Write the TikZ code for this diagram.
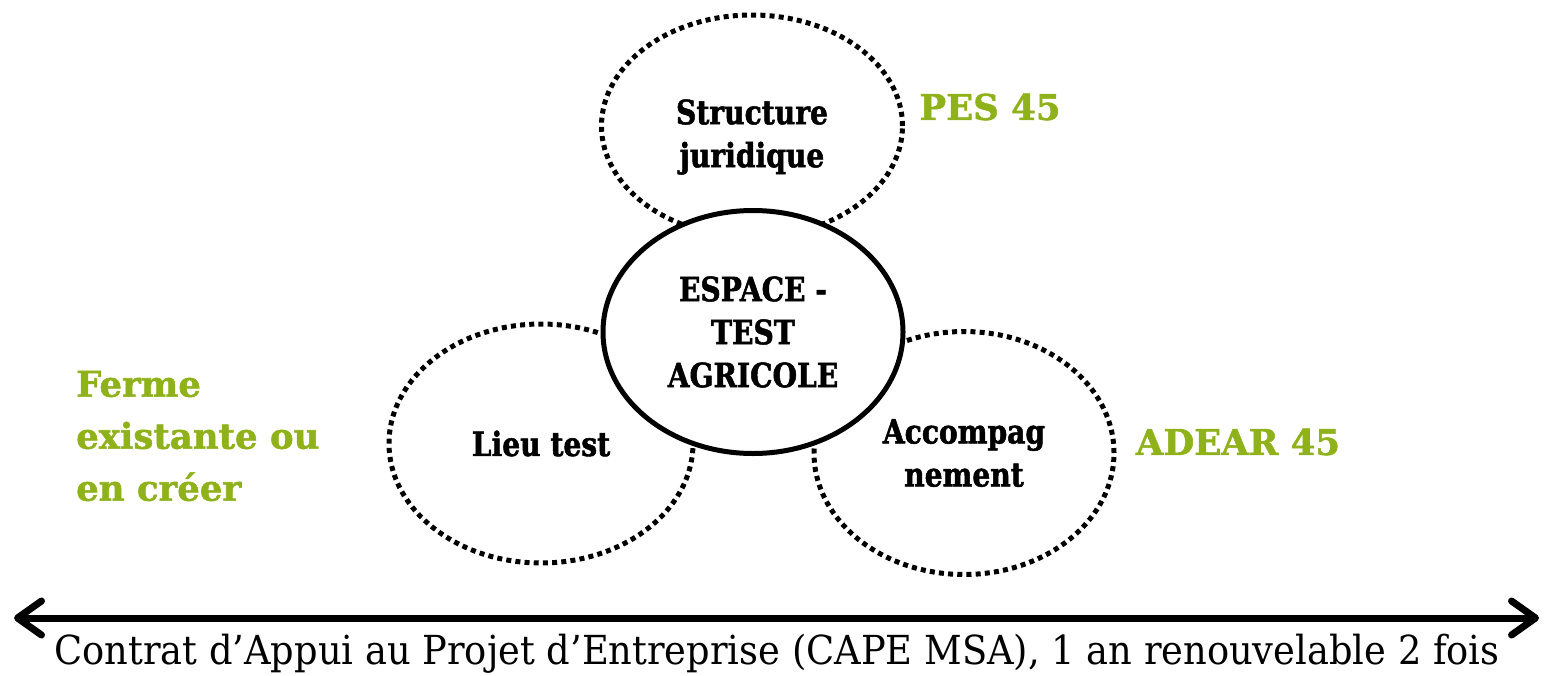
\documentclass[tikz,border=0pt]{standalone}
\usepackage{fontspec}
\usetikzlibrary{shapes.geometric,arrows.meta}
\newfontfamily\labfont[FakeStretch=0.84,FakeBold=1.5]{DejaVu Serif}
\newfontfamily\grnfont[FakeBold=1.5]{DejaVu Serif}
\newfontfamily\btmfont[FakeStretch=0.92]{DejaVu Serif}
\definecolor{leaf}{RGB}{143,178,26}
\begin{document}
\begin{tikzpicture}[x=1pt,y=-1pt,
  dotell/.style={ellipse, draw, line width=5pt, dash pattern=on 5pt off 4.2pt, inner sep=0pt},
  mainell/.style={ellipse, draw, line width=5pt, fill=white, inner sep=0pt},
  blacklbl/.style={inner sep=0pt, align=center, font=\labfont\bfseries\fontsize{33.5}{43}\selectfont},
  greenlbl/.style={text=leaf, inner sep=0pt, font=\grnfont\bfseries\fontsize{35.5}{52}\selectfont},
  barb/.tip={Straight Barb[round,length=24pt,width=34pt]}
]
\path[use as bounding box] (0,0) rectangle (1545,675);

\node[dotell, minimum width=301pt, minimum height=222pt] (struct) at (752,126) {};
\node[dotell, minimum width=304pt, minimum height=239pt] (lieu) at (541,443.5) {};
\node[dotell, minimum width=300pt, minimum height=243pt] (accomp) at (964,453) {};
\node[mainell, minimum width=300pt, minimum height=243pt] (espace) at (753,332) {};

\node[blacklbl] (structtxt) at (752,137) {Structure\\juridique};
\node[blacklbl] (lieutxt) at (541,443.5) {Lieu test};
\node[blacklbl] (accomptxt) at (964,453) {Accompag\\nement};
\node[blacklbl] (espacetxt) at (753,332) {ESPACE -\\TEST\\AGRICOLE};

\node[greenlbl] (pes) at (990,107) {PES 45};
\node[greenlbl] (adear) at (1238,442) {ADEAR 45};
\node[greenlbl, anchor=west, align=left] (ferme) at (76,436) {Ferme\\existante ou\\en créer};

\coordinate (aL) at (14,618);
\coordinate (aR) at (1539,618);
\draw[line width=7pt, barb-barb] (aL) -- (aR);

\node[inner sep=0pt, font=\btmfont\fontsize{40}{48}\selectfont] (cape) at (777,654) {Contrat d’Appui au Projet d’Entreprise (CAPE MSA), 1 an renouvelable 2 fois};
\end{tikzpicture}
\end{document}
